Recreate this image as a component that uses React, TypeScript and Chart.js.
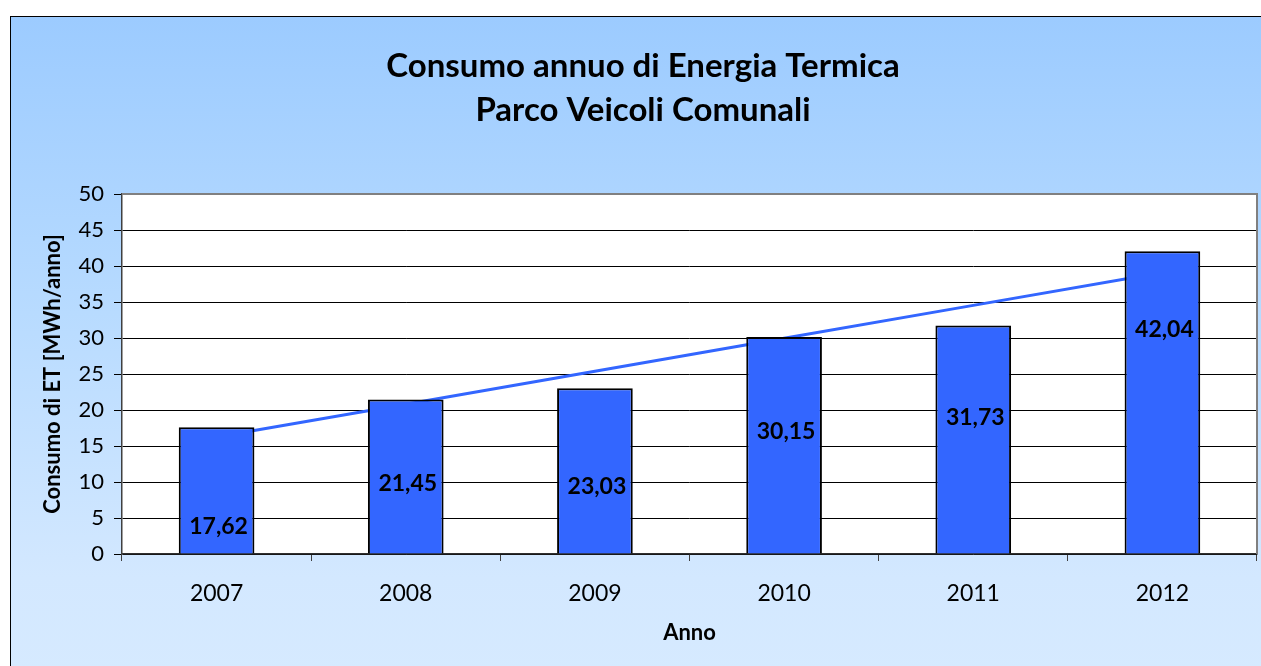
import React, { useEffect, useRef } from "react";
import { Chart, registerables } from "chart.js";

Chart.register(...registerables);

const years = ["2007", "2008", "2009", "2010", "2011", "2012"];
const consumption = [17.62, 21.45, 23.03, 30.15, 31.73, 42.04];
const valueLabels = ["17,62", "21,45", "23,03", "30,15", "31,73", "42,04"];
// vertical anchor (in axis units) where each data label sits inside its bar
const labelAnchors = [3.8, 9.8, 9.3, 17.0, 18.9, 31.2];
const titleLines = ["Consumo annuo di Energia Termica", "Parco Veicoli Comunali"];
const yAxisTitle = "Consumo di ET [MWh/anno]";
const xAxisTitle = "Anno";

function linearTrend(values: number[]): number[] {
  const n = values.length;
  const mx = (n - 1) / 2;
  const my = values.reduce((a, b) => a + b, 0) / n;
  let sxy = 0;
  let sxx = 0;
  values.forEach((v, i) => {
    sxy += (i - mx) * (v - my);
    sxx += (i - mx) * (i - mx);
  });
  const slope = sxy / sxx;
  return values.map((_, i) => my + slope * (i - mx));
}

const FONT = "Lato, 'Open Sans', sans-serif";

const W = 1250;
const H = 649;

const overlayPlugin = {
  id: "overlay",
  beforeDraw(chart: any) {
    const { ctx, chartArea } = chart;
    ctx.save();
    ctx.fillStyle = "#ffffff";
    ctx.fillRect(chartArea.left, chartArea.top, chartArea.right - chartArea.left, chartArea.bottom - chartArea.top);
    ctx.restore();
  },
  beforeDatasetsDraw(chart: any) {
    const { ctx, chartArea } = chart;
    ctx.save();
    ctx.strokeStyle = "#808080";
    ctx.lineWidth = 2;
    ctx.beginPath();
    ctx.moveTo(chartArea.left, chartArea.top);
    ctx.lineTo(chartArea.right, chartArea.top);
    ctx.lineTo(chartArea.right, chartArea.bottom);
    ctx.stroke();
    ctx.restore();
  },
  afterDraw(chart: any) {
    const { ctx } = chart;
    ctx.save();
    ctx.fillStyle = "#000";
    ctx.textAlign = "center";
    ctx.textBaseline = "middle";
    ctx.font = `bold 33px ${FONT}`;
    ctx.fillText(titleLines[0], 632, 49);
    ctx.fillText(titleLines[1], 632, 93);

    const meta = chart.getDatasetMeta(1);
    const yScale = chart.scales.y;
    ctx.font = `bold 23px ${FONT}`;
    meta.data.forEach((bar: any, i: number) => {
      ctx.fillText(valueLabels[i], bar.x + 2, yScale.getPixelForValue(labelAnchors[i]));
    });
    ctx.restore();
  },
};

export default function App() {
  const ref = useRef<HTMLCanvasElement | null>(null);

  useEffect(() => {
    if (!ref.current) return;
    const chart = new Chart(ref.current, {
      type: "bar",
      data: {
        labels: years,
        datasets: [
          {
            type: "line",
            label: "Tendenza",
            data: linearTrend(consumption),
            borderColor: "#3366ff",
            borderWidth: 3,
            pointRadius: 0,
            fill: false,
            tension: 0,
            order: 2,
          } as any,
          {
            type: "bar",
            label: "Consumo",
            data: consumption,
            backgroundColor: "#3366ff",
            borderColor: "#000000",
            borderWidth: 2,
            barPercentage: 0.4,
            categoryPercentage: 1,
            order: 1,
          },
        ],
      },
      options: {
        responsive: false,
        animation: false,
        layout: { padding: { top: 177, right: 4, left: 0, bottom: 0 } },
        plugins: {
          legend: { display: false },
          tooltip: { enabled: false },
          title: { display: false },
        },
        scales: {
          x: {
            offset: true,
            grid: {
              offset: true,
              drawOnChartArea: false,
              drawTicks: true,
              tickLength: 7,
              color: "#404040",
            },
            border: { color: "#303030", width: 1.5 },
            ticks: {
              color: "#000",
              padding: 19,
              font: { family: FONT, size: 23 },
            },
            title: {
              display: true,
              text: xAxisTitle,
              color: "#000",
              font: { family: FONT, size: 22, weight: "bold" },
              padding: { top: 0, bottom: 20 },
            },
            afterFit(scale: any) {
              scale.height = H - 537;
            },
          },
          y: {
            min: 0,
            max: 50,
            ticks: {
              stepSize: 5,
              color: "#000",
              padding: 10,
              font: { family: FONT, size: 22 },
            },
            grid: {
              color: "#000000",
              lineWidth: 1,
              tickLength: 8,
            },
            border: { color: "#404040", width: 1.5 },
            title: {
              display: true,
              text: yAxisTitle,
              color: "#000",
              font: { family: FONT, size: 22, weight: "bold" },
              padding: { top: 29, bottom: 0 },
            },
            afterFit(scale: any) {
              scale.width = 111;
            },
          },
        },
      },
      plugins: [overlayPlugin],
    });
    return () => chart.destroy();
  }, []);

  return (
    <div
      style={{
        position: "fixed",
        left: 10,
        top: 16,
        width: 1262,
        height: 660,
        boxSizing: "border-box",
        borderLeft: "1px solid #000",
        borderTop: "1px solid #000",
        background: "linear-gradient(to bottom, #9ccbff 0%, #b8dbff 45%, #d3e8ff 85%, #d6eaff 100%)",
      }}
    >
      <canvas ref={ref} width={W} height={H} style={{ display: "block", width: W, height: H }} />
    </div>
  );
}
